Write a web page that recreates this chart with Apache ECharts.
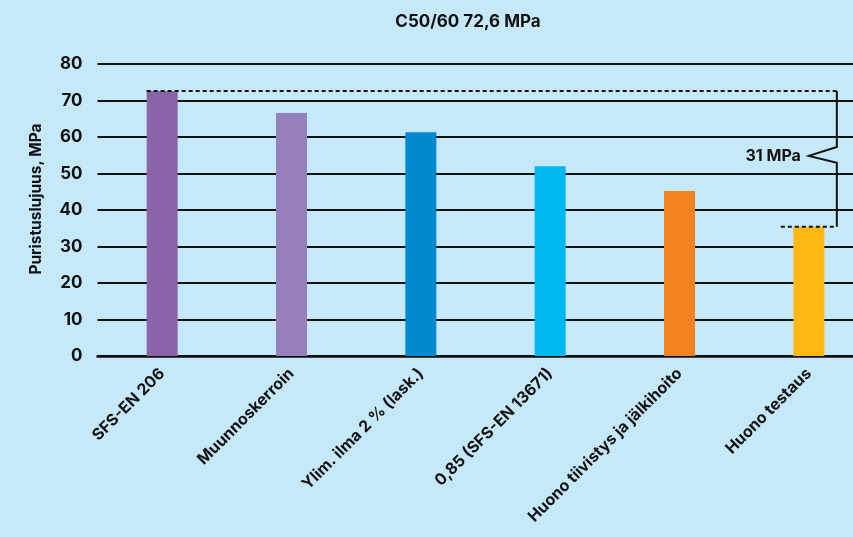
<!DOCTYPE html>
<html><head><meta charset="utf-8">
<script src="https://cdn.jsdelivr.net/npm/echarts@6/dist/echarts.min.js"></script>
<style>html,body{margin:0;padding:0;background:#c6e9fa;}#c{width:853px;height:537px;}</style>
</head><body><div id="c"></div>
<script>
const titleText = 'C50/60 72,6 MPa';
const yAxisName = 'Puristuslujuus, MPa';
const categories = ['SFS-EN 206', 'Muunnoskerroin', 'Ylim. ilma 2 % (lask.)', '0,85 (SFS-EN 13671)', 'Huono tiivistys ja jälkihoito', 'Huono testaus'];
const values = [72.6, 66.6, 61.3, 52.0, 45.2, 35.4];
const barColors = ['#8a63a8', '#9580bd', '#0089cf', '#00b7ef', '#f58220', '#fdb813'];
const bracketLabel = '31 MPa';
const bracketFrom = 0;   // category index of top reference
const bracketTo = 5;     // category index of bottom reference

const FONT = 'Inter';
const chart = echarts.init(document.getElementById('c'), null, {renderer: 'canvas'});
const BAR_W = 31;

chart.setOption({
  backgroundColor: '#c6e9fa',
  animation: false,
  title: {
    text: titleText, left: 463, top: 8, textAlign: 'center',
    textStyle: {fontFamily: FONT, fontWeight: 'bold', fontSize: 17, color: '#111'}
  },
  grid: {left: 97.5, top: 64, width: 776, height: 292, containLabel: false, outerBoundsMode: 'none'},
  xAxis: {
    type: 'category', data: categories,
    axisTick: {show: false},
    axisLine: {lineStyle: {color: '#111', width: 2.5}},
    axisLabel: {rotate: 45, margin: 15, interval: 0, fontFamily: FONT, fontWeight: 'bold', fontSize: 16, color: '#111'}
  },
  yAxis: {
    type: 'value', min: 0, max: 80, interval: 10,
    name: yAxisName, nameLocation: 'middle', nameGap: 53, nameRotate: 90,
    nameTextStyle: {fontFamily: FONT, fontWeight: 'bold', fontSize: 15.5, color: '#111', padding: [0, 0, 0, 22]},
    axisLine: {show: false}, axisTick: {show: false},
    axisLabel: {margin: 15, fontFamily: FONT, fontWeight: 'bold', fontSize: 17, color: '#111'},
    splitLine: {lineStyle: {color: '#111', width: 2}}
  },
  series: [
    {
      type: 'bar', barWidth: BAR_W, z: 3,
      data: values.map((v, i) => ({value: v, itemStyle: {color: barColors[i]}}))
    },
    {
      type: 'custom', z: 4, silent: true, clip: false,
      data: [[bracketFrom, values[bracketFrom], bracketTo, values[bracketTo]]],
      renderItem: function (params, api) {
        const pTop = api.coord([api.value(0), api.value(1)]);
        const pBot = api.coord([api.value(2), api.value(3)]);
        const xL = pTop[0] - BAR_W / 2;
        const xR = pBot[0] + 28;
        const yT = pTop[1], yB = pBot[1];
        const yM = (yT + yB) / 2 - 3;
        const ls = {stroke: '#111', lineWidth: 2};
        const ds = {stroke: '#111', lineWidth: 2, lineDash: [4, 3]};
        return {
          type: 'group',
          children: [
            {type: 'line', shape: {x1: xL, y1: yT, x2: xR, y2: yT}, style: ds},
            {type: 'line', shape: {x1: xR - 56, y1: yB, x2: xR, y2: yB}, style: ds},
            {type: 'polyline', shape: {points: [[xR, yT], [xR, yM - 9], [xR - 28, yM], [xR, yM + 7], [xR, yB]]}, style: Object.assign({fill: null}, ls)},
            {type: 'text', style: {x: xR - 36, y: yM, text: bracketLabel, align: 'right', verticalAlign: 'middle',
              fontFamily: FONT, fontWeight: 'bold', fontSize: 16, fill: '#111'}}
          ]
        };
      }
    }
  ]
});
</script></body></html>
